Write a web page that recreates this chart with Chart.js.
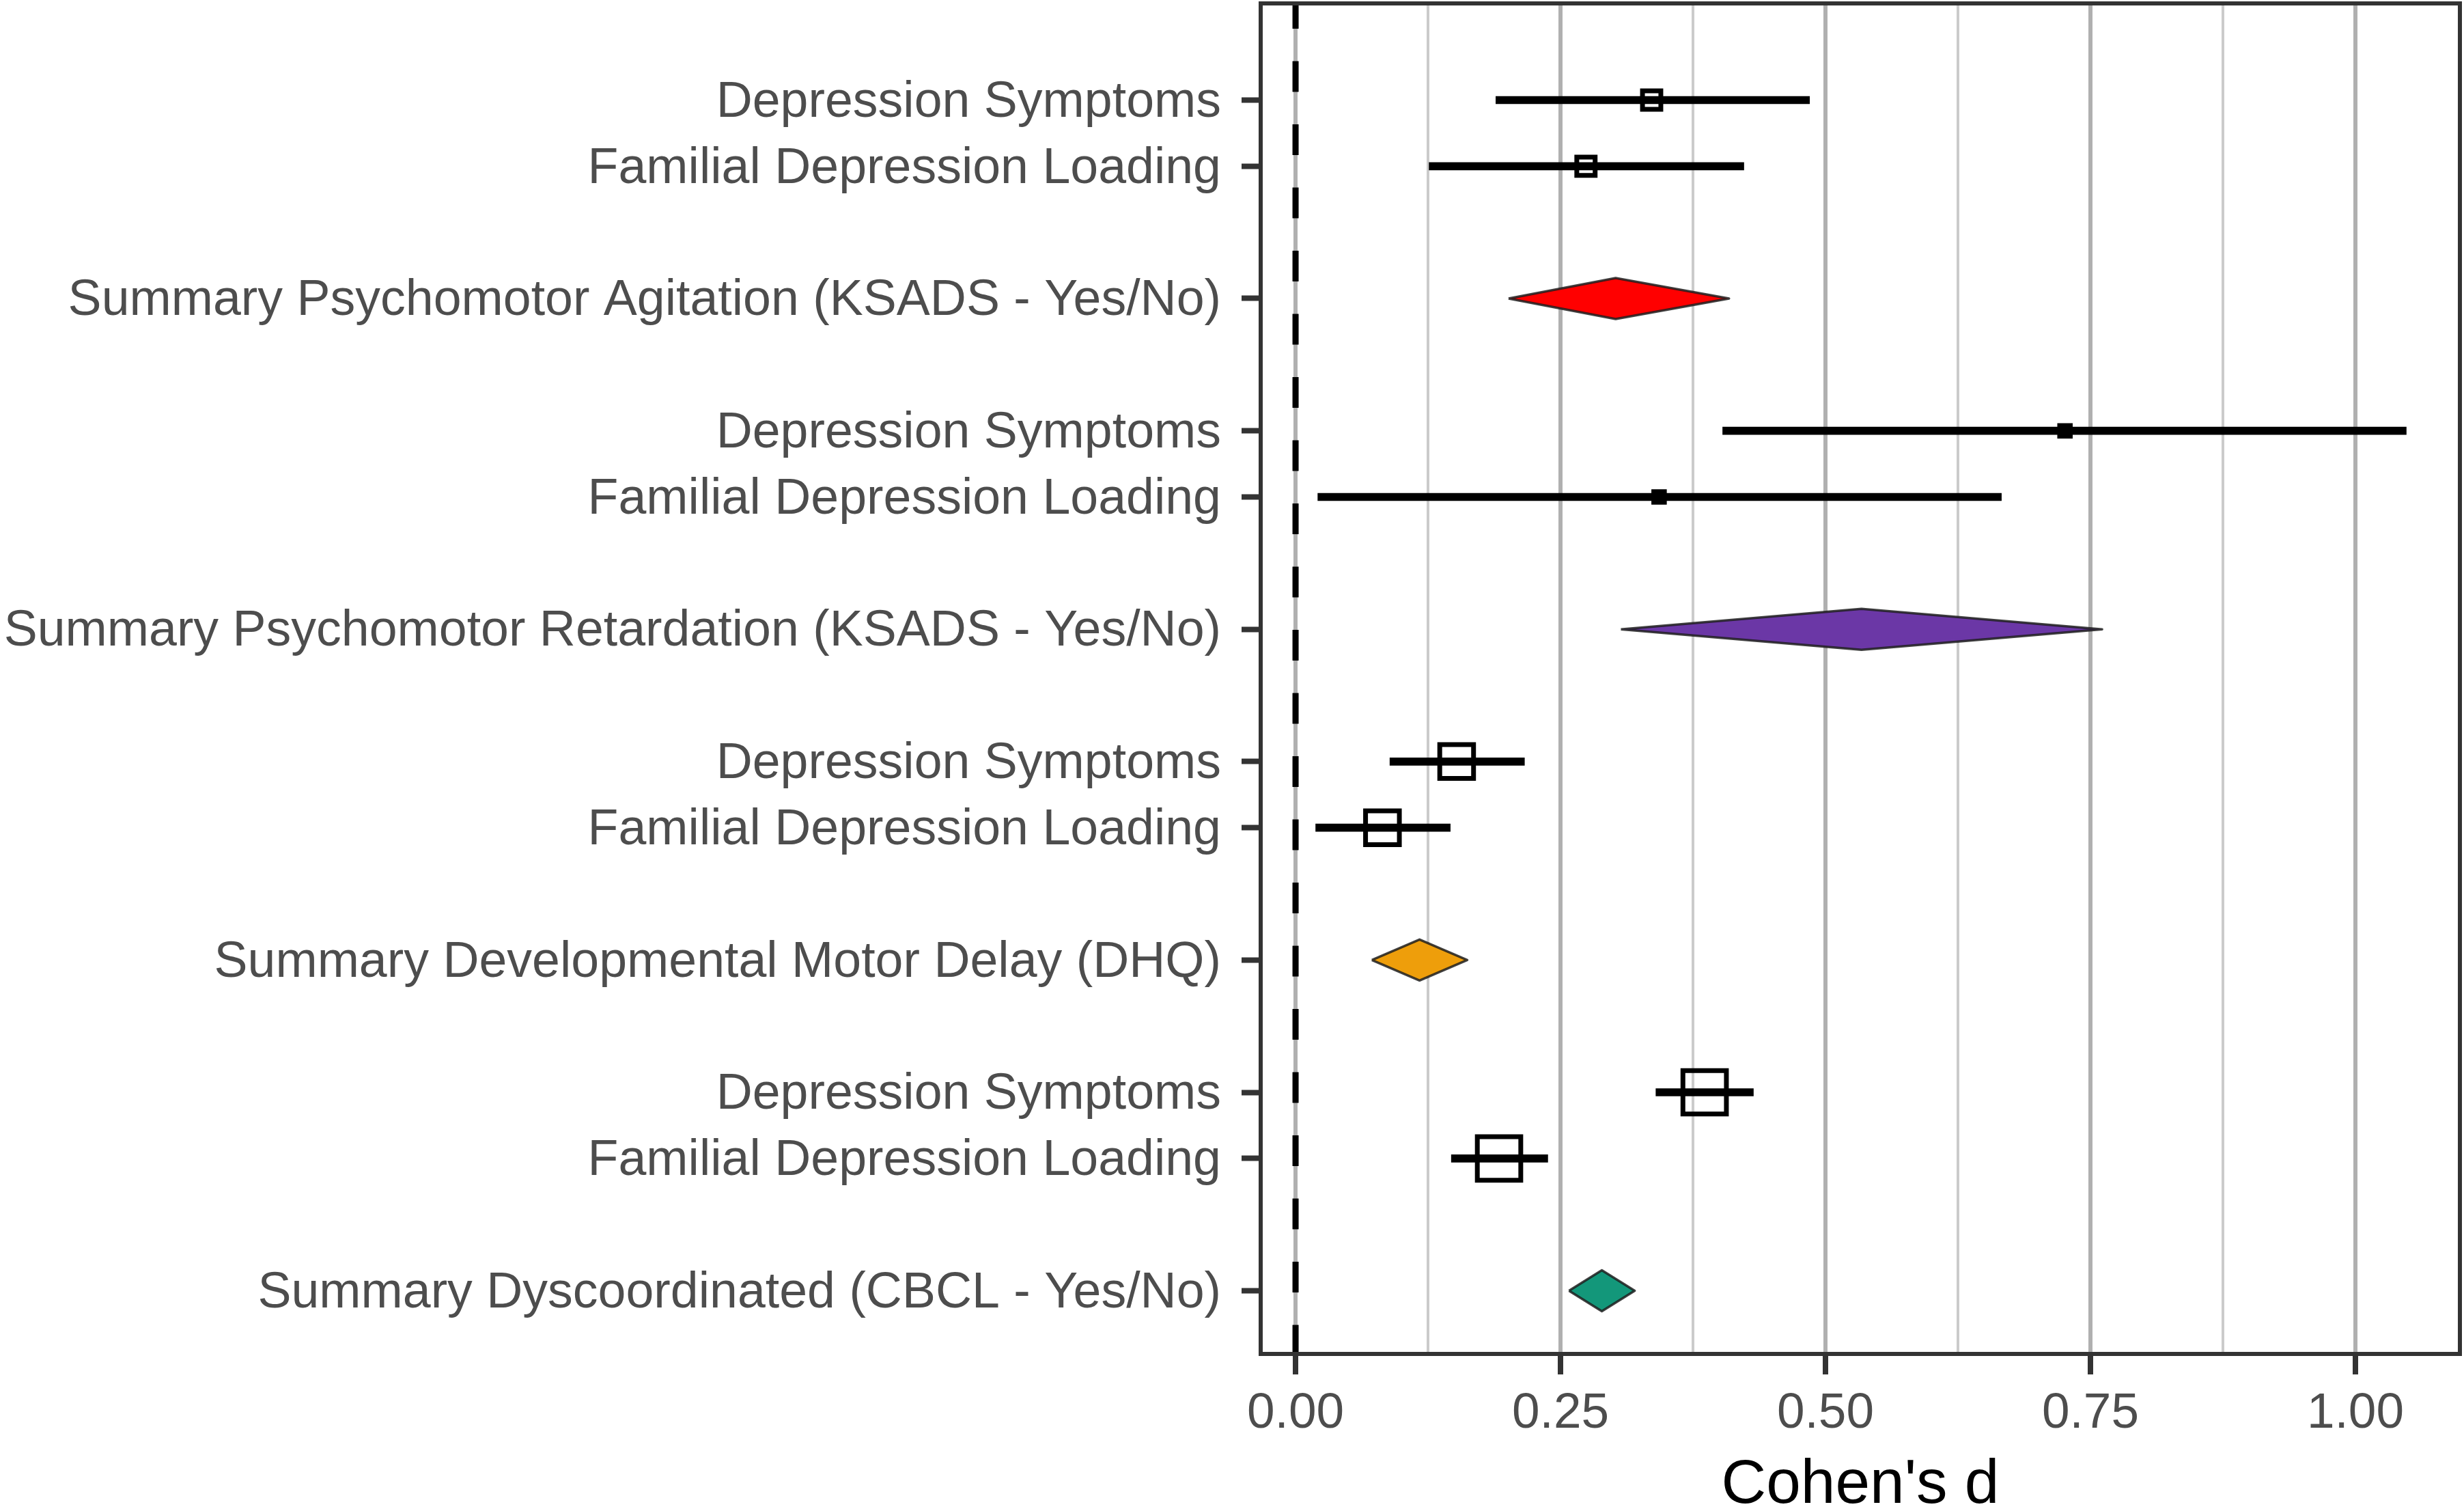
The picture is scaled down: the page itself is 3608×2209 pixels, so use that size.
<!DOCTYPE html>
<html lang="en">
<head>
<meta charset="UTF-8">
<title>Cohen's d forest plot</title>
<script src="https://cdn.jsdelivr.net/npm/chart.js"></script>
<style>
  body { margin: 0; padding: 0; background: #fff; }
  #chart { display: block; }
</style>
</head>
<body>
<canvas id="chart" width="3608" height="2209"></canvas>
<script>
    // rows, top to bottom, and their slot on the y axis
    const rowLabels = [
        'Depression Symptoms',
        'Familial Depression Loading',
        'Summary Psychomotor Agitation (KSADS - Yes/No)',
        'Depression Symptoms',
        'Familial Depression Loading',
        'Summary Psychomotor Retardation (KSADS - Yes/No)',
        'Depression Symptoms',
        'Familial Depression Loading',
        'Summary Developmental Motor Delay (DHQ)',
        'Depression Symptoms',
        'Familial Depression Loading',
        'Summary Dyscoordinated (CBCL - Yes/No)'
    ];
    const rowPos = [0, 1, 3, 5, 6, 8, 10, 11, 13, 15, 16, 18];

    // single estimates (squares + CI)
    const studyPos  = [0, 1, 5, 6, 10, 11, 15, 16];
    const studyEst  = [0.336, 0.274, 0.726, 0.343, 0.152, 0.082, 0.386, 0.192];
    const studyLow  = [0.189, 0.126, 0.403, 0.021, 0.089, 0.019, 0.340, 0.147];
    const studyHigh = [0.485, 0.423, 1.048, 0.666, 0.216, 0.146, 0.432, 0.238];

    // pooled summaries (diamonds)
    const summaryPos  = [3, 8, 13, 18];
    const summaryEst  = [0.302, 0.534, 0.117, 0.289];
    const summaryLow  = [0.201, 0.307, 0.072, 0.258];
    const summaryHigh = [0.409, 0.761, 0.162, 0.320];

    // x axis ticks
    const xTicks = [0, 0.25, 0.5, 0.75, 1];
    const xTickLabels = ['0.00', '0.25', '0.50', '0.75', '1.00'];
    const xMinor = [0.125, 0.375, 0.625, 0.875];

    // styling
    const squareRadius = [19, 19, 11, 11, 35, 35, 45, 45];
    const summaryColors = ['#ff0000', '#6b37a6', '#ee9e0b', '#13977a'];
    const diamondHalf = 0.31;
    const textGrey = '#4d4d4d';
    Chart.defaults.font.family = "'Liberation Sans', Arial, Helvetica, sans-serif";

    const isMajor = v => xTicks.some(t => Math.abs(t - v) < 1e-9);

    const datasets = [];

    // confidence intervals as horizontal floating bars
    datasets.push({
        type: 'bar',
        indexAxis: 'y',
        data: studyPos.map((p, i) => ({ x: [studyLow[i], studyHigh[i]], y: p })),
        backgroundColor: '#000',
        borderWidth: 0,
        barThickness: 11
    });

    // point estimates
    datasets.push({
        type: 'scatter',
        data: studyPos.map((p, i) => ({ x: studyEst[i], y: p })),
        pointStyle: 'rect',
        pointRadius: squareRadius,
        pointHoverRadius: squareRadius,
        pointBackgroundColor: 'rgba(0,0,0,0)',
        pointBorderColor: '#000',
        pointBorderWidth: 7
    });

    // summary diamonds
    summaryPos.forEach((p, i) => {
        datasets.push({
            type: 'line',
            data: [
                { x: summaryLow[i], y: p },
                { x: summaryEst[i], y: p - diamondHalf },
                { x: summaryHigh[i], y: p },
                { x: summaryEst[i], y: p + diamondHalf },
                { x: summaryLow[i], y: p }
            ],
            fill: 'shape',
            backgroundColor: summaryColors[i],
            borderColor: 'rgba(30,30,30,0.85)',
            borderWidth: 3.5,
            borderJoinStyle: 'round',
            pointRadius: 0,
            tension: 0
        });
    });

    const frame = {
        id: 'frame',
        beforeDatasetsDraw(chart) {
            const { ctx, chartArea: a, scales: { x } } = chart;
            const px = x.getPixelForValue(0);
            ctx.save();
            ctx.beginPath();
            ctx.rect(a.left, a.top, a.right - a.left, a.bottom - a.top);
            ctx.clip();
            ctx.strokeStyle = '#000';
            ctx.lineWidth = 9;
            ctx.setLineDash([45, 47.5]);
            ctx.lineDashOffset = 8;
            ctx.beginPath();
            ctx.moveTo(px, a.top);
            ctx.lineTo(px, a.bottom);
            ctx.stroke();
            ctx.restore();
        },
        afterDraw(chart) {
            const { ctx, chartArea: a } = chart;
            ctx.save();
            ctx.strokeStyle = '#333';
            ctx.lineWidth = 6;
            ctx.strokeRect(a.left, a.top, a.right - a.left, a.bottom - a.top);
            ctx.restore();
        }
    };

    new Chart(document.getElementById('chart'), {
        type: 'scatter',
        data: { datasets },
        options: {
            responsive: false,
            animation: false,
            devicePixelRatio: 1,
            layout: { autoPadding: false, padding: { left: 0, top: 5, right: 6, bottom: 0 } },
            plugins: { legend: { display: false }, tooltip: { enabled: false } },
            scales: {
                x: {
                    type: 'linear',
                    min: -0.0329,
                    max: 1.0986,
                    offset: false,
                    afterBuildTicks: s => {
                        s.ticks = xTicks.concat(xMinor).sort((a, b) => a - b).map(v => ({ value: v }));
                    },
                    afterFit: s => {
                        s.height = 227;
                        s.paddingLeft = 0;
                        s.paddingRight = 0;
                    },
                    border: { display: false },
                    grid: {
                        color: c => isMajor(c.tick.value) ? '#b0b0b0' : '#cbcbcb',
                        lineWidth: c => isMajor(c.tick.value) ? 6 : 4,
                        drawTicks: true,
                        tickLength: 30,
                        tickWidth: 8,
                        tickColor: c => isMajor(c.tick.value) ? '#333' : 'rgba(0,0,0,0)'
                    },
                    ticks: {
                        autoSkip: false,
                        maxRotation: 0,
                        padding: 14,
                        color: textGrey,
                        font: { size: 73 },
                        callback: v => {
                            const k = xTicks.findIndex(t => Math.abs(t - v) < 1e-9);
                            return k >= 0 ? xTickLabels[k] : '';
                        }
                    },
                    title: {
                        display: true,
                        text: "Cohen's d",
                        color: '#000',
                        font: { size: 91, lineHeight: 0.75 },
                        padding: { top: 0, bottom: 0 }
                    }
                },
                y: {
                    type: 'linear',
                    reverse: true,
                    min: -1.461,
                    max: 18.955,
                    offset: false,
                    afterBuildTicks: s => { s.ticks = rowPos.map(v => ({ value: v })); },
                    afterFit: s => {
                        s.width = 1846;
                        s.paddingTop = 0;
                        s.paddingBottom = 0;
                    },
                    border: { display: false },
                    grid: {
                        offset: false,
                        drawOnChartArea: false,
                        drawTicks: true,
                        tickLength: 28,
                        tickWidth: 8,
                        tickColor: '#333'
                    },
                    ticks: {
                        autoSkip: false,
                        padding: 30,
                        labelOffset: 4,
                        color: textGrey,
                        font: { size: 73.5 },
                        callback: (v, i) => rowLabels[i]
                    }
                }
            }
        },
        plugins: [frame]
    });
</script>
</body>
</html>
